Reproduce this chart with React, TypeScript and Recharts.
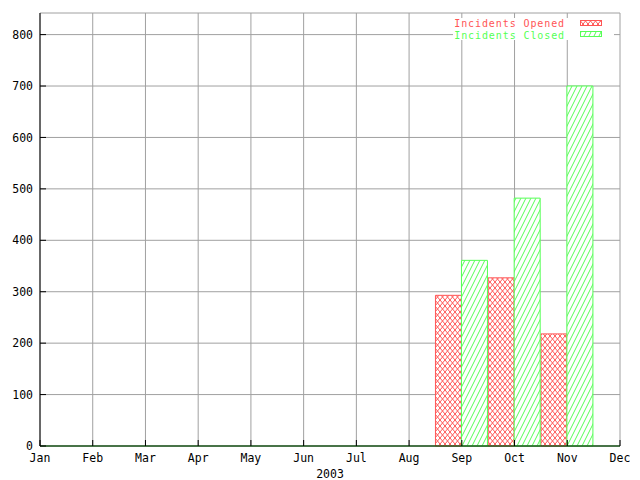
import React from 'react';
import {
	Bar,
	BarChart,
	CartesianGrid,
	Legend,
	ReferenceLine,
	XAxis,
	YAxis,
} from 'recharts';

const months = ['Jan', 'Feb', 'Mar', 'Apr', 'May', 'Jun', 'Jul', 'Aug', 'Sep', 'Oct', 'Nov', 'Dec'];
const opened = [0, 0, 0, 0, 0, 0, 0, 0, 293, 327, 218];
const closed = [0, 0, 0, 0, 0, 0, 0, 0, 361, 482, 700];
const yTicks = [0, 100, 200, 300, 400, 500, 600, 700, 800];
const xTicks = months.map((_, i) => i);

const data = opened.map((v, i) => ({ m: i, opened: v, closed: closed[i] }));

const RED = '#ff5555';
const GREEN = '#55ff55';
const font = { fontFamily: '"DejaVu Sans Mono", monospace', fontSize: 11.5, fill: '#000' };
const legendFont = { fontFamily: '"DejaVu Sans Mono", monospace', fontSize: 10, letterSpacing: 0.9 };

const BottomTick = (props: any) => {
	const { x, y, payload } = props;
	return (
		<g>
			<line x1={x} x2={x} y1={y - 8} y2={y - 14} stroke="#000" />
			<text x={x} y={y} dy="0.71em" textAnchor="middle" style={font}>
				{months[payload.value]}
			</text>
		</g>
	);
};

const LeftTick = (props: any) => {
	const { x, y, payload } = props;
	return (
		<g>
			<line x1={x + 7} x2={x + 13} y1={y} y2={y} stroke="#000" />
			<text x={x} y={y} dy="0.355em" textAnchor="end" style={font}>
				{payload.value}
			</text>
		</g>
	);
};

const TopTick = (props: any) => {
	const { x, y } = props;
	return <line x1={x} x2={x} y1={y} y2={y + 6} stroke="#000" />;
};

const RightTick = (props: any) => {
	const { x, y } = props;
	return <line x1={x} x2={x - 6} y1={y} y2={y} stroke="#000" />;
};

const LegendBox = () => (
	<svg width={161} height={28} style={{ display: 'block', overflow: 'visible' }}>
		<rect x={0} y={0} width={161} height={22} fill="#fff" />
		<text x={112} y={5.5} dy="0.355em" textAnchor="end" style={{ ...legendFont, fill: RED }}>
			Incidents Opened
		</text>
		<rect x={127.5} y={2.5} width={21} height={5} fill="url(#hatchOpened)" stroke={RED} />
		<text x={112} y={17} dy="0.355em" textAnchor="end" style={{ ...legendFont, fill: GREEN }}>
			Incidents Closed
		</text>
		<rect x={127.5} y={13.5} width={21} height={5} fill="url(#hatchClosed)" stroke={GREEN} />
	</svg>
);

export default function App() {
	return (
		<div style={{ position: 'absolute', left: 0, top: 0, background: '#fff' }}>
			<svg width={0} height={0} style={{ position: 'absolute' }}>
				<defs>
					<pattern id="hatchOpened" patternUnits="userSpaceOnUse" width={5} height={6}>
						<rect width={5} height={6} fill="#fff" />
						<path d="M0,0 L5,6 M5,0 L0,6" stroke={RED} strokeWidth={1} />
					</pattern>
					<pattern id="hatchClosed" patternUnits="userSpaceOnUse" width={5} height={10}>
						<rect width={5} height={10} fill="#fff" />
						<path d="M0,10 L5,0 M-1,2 L0,0 M5,10 L6,8" stroke={GREEN} strokeWidth={1} />
					</pattern>
				</defs>
			</svg>
			<BarChart
				width={640}
				height={480}
				data={data}
				barGap={0}
				margin={{ top: 13, right: 20, bottom: 0, left: 0 }}
			>
				<CartesianGrid stroke="#a0a0a0" />
				<XAxis
					dataKey="m"
					type="number"
					domain={[0, 11]}
					ticks={xTicks}
					interval={0}
					height={34}
					tickSize={0}
					tickMargin={8}
					tickLine={false}
					axisLine={{ stroke: '#000' }}
					tick={<BottomTick />}
					label={{ value: '2003', position: 'insideBottom', offset: 2, style: font }}
				/>
				<XAxis
					xAxisId="top"
					orientation="top"
					type="number"
					domain={[0, 11]}
					ticks={xTicks}
					interval={0}
					height={0}
					tickSize={0}
					tickMargin={0}
					tickLine={false}
					axisLine={{ stroke: '#000' }}
					tick={<TopTick />}
				/>
				<YAxis
					domain={[0, 842]}
					ticks={yTicks}
					interval={0}
					width={40}
					tickSize={0}
					tickMargin={7}
					tickLine={false}
					axisLine={{ stroke: '#000' }}
					tick={<LeftTick />}
				/>
				<YAxis
					yAxisId="right"
					orientation="right"
					domain={[0, 842]}
					ticks={yTicks}
					interval={0}
					width={0}
					tickSize={0}
					tickMargin={0}
					tickLine={false}
					axisLine={{ stroke: '#000' }}
					tick={<RightTick />}
				/>
				<Bar
					dataKey="opened"
					name="Incidents Opened"
					fill="url(#hatchOpened)"
					stroke={RED}
					barSize={26}
					isAnimationActive={false}
				/>
				<Bar
					dataKey="closed"
					name="Incidents Closed"
					fill="url(#hatchClosed)"
					stroke={GREEN}
					barSize={26}
					isAnimationActive={false}
				/>
				<ReferenceLine y={0} stroke={GREEN} />
				<Legend
					layout="horizontal"
					verticalAlign="middle"
					align="center"
					content={<LegendBox />}
					wrapperStyle={{
						position: 'absolute',
						left: 453,
						top: 18,
						width: 161,
						height: 28,
					}}
				/>
			</BarChart>
		</div>
	);
}
